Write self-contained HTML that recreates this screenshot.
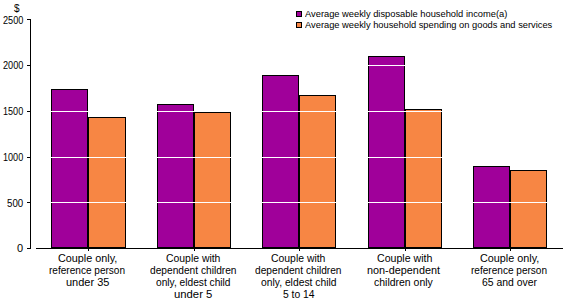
<!DOCTYPE html>
<html><head><meta charset="utf-8"><style>
html,body{margin:0;padding:0;background:#fff;}
body{width:567px;height:302px;position:relative;overflow:hidden;}
div{position:absolute;}
.bar{box-sizing:border-box;border:1px solid #000;}
.sw{width:6px;height:6px;box-sizing:border-box;border:1px solid #000;}
.t{font-family:"Liberation Sans",sans-serif;color:#000;white-space:pre;line-height:13px;transform-origin:0 0;}
</style></head><body>
<div style="left:30px;top:19px;width:1px;height:230px;background:#000;"></div>
<div style="left:27px;top:19px;width:3px;height:1px;background:#000;"></div>
<div style="left:27px;top:65px;width:3px;height:1px;background:#000;"></div>
<div style="left:27px;top:111px;width:3px;height:1px;background:#000;"></div>
<div style="left:27px;top:157px;width:3px;height:1px;background:#000;"></div>
<div style="left:27px;top:202px;width:3px;height:1px;background:#000;"></div>
<div style="left:27px;top:248px;width:3px;height:1px;background:#000;"></div>
<div style="left:36px;top:248px;width:527px;height:1px;background:#000;"></div>
<div style="left:88px;top:249px;width:1px;height:2px;background:#000;"></div>
<div style="left:194px;top:249px;width:1px;height:2px;background:#000;"></div>
<div style="left:299px;top:249px;width:1px;height:2px;background:#000;"></div>
<div style="left:405px;top:249px;width:1px;height:2px;background:#000;"></div>
<div style="left:510px;top:249px;width:1px;height:2px;background:#000;"></div>
<div class="bar" style="left:51px;top:89px;width:37px;height:159px;background:#A0009A"></div>
<div class="bar" style="left:88px;top:117px;width:38px;height:131px;background:#F78644"></div>
<div class="bar" style="left:157px;top:104px;width:37px;height:144px;background:#A0009A"></div>
<div class="bar" style="left:194px;top:112px;width:37px;height:136px;background:#F78644"></div>
<div class="bar" style="left:262px;top:75px;width:37px;height:173px;background:#A0009A"></div>
<div class="bar" style="left:299px;top:95px;width:37px;height:153px;background:#F78644"></div>
<div class="bar" style="left:368px;top:56px;width:37px;height:192px;background:#A0009A"></div>
<div class="bar" style="left:405px;top:109px;width:37px;height:139px;background:#F78644"></div>
<div class="bar" style="left:473px;top:166px;width:37px;height:82px;background:#A0009A"></div>
<div class="bar" style="left:510px;top:170px;width:37px;height:78px;background:#F78644"></div>
<div style="left:36px;top:65px;width:527px;height:1px;background:#fff;"></div>
<div style="left:36px;top:111px;width:527px;height:1px;background:#fff;"></div>
<div style="left:36px;top:157px;width:527px;height:1px;background:#fff;"></div>
<div style="left:36px;top:202px;width:527px;height:1px;background:#fff;"></div>
<div class="sw" style="left:296px;top:11px;background:#A0009A"></div>
<div class="sw" style="left:296px;top:22px;background:#F78644"></div>
<div class="t" style="left:3.00px;top:14px;font-size:11px;transform:scaleX(0.8333)">2500</div>
<div class="t" style="left:3.00px;top:59px;font-size:11px;transform:scaleX(0.8333)">2000</div>
<div class="t" style="left:3.17px;top:105px;font-size:11px;transform:scaleX(0.8261)">1500</div>
<div class="t" style="left:3.17px;top:151px;font-size:11px;transform:scaleX(0.8261)">1000</div>
<div class="t" style="left:7.12px;top:197px;font-size:11px;transform:scaleX(0.8824)">500</div>
<div class="t" style="left:17.00px;top:242px;font-size:11px;transform:scaleX(1.0000)">0</div>
<div class="t" style="left:14.00px;top:2px;font-size:10px;transform:scaleX(1.0000)">$</div>
<div class="t" style="left:58.02px;top:252px;font-size:11px;transform:scaleX(0.9831)">Couple only,</div>
<div class="t" style="left:49.09px;top:264px;font-size:11px;transform:scaleX(0.9146)">reference person</div>
<div class="t" style="left:66.00px;top:276px;font-size:11px;transform:scaleX(1.0000)">under 35</div>
<div class="t" style="left:166.05px;top:252px;font-size:11px;transform:scaleX(0.9464)">Couple with</div>
<div class="t" style="left:150.00px;top:264px;font-size:11px;transform:scaleX(0.9247)">dependent children</div>
<div class="t" style="left:156.00px;top:276px;font-size:11px;transform:scaleX(0.9250)">only, eldest child</div>
<div class="t" style="left:173.97px;top:288px;font-size:11px;transform:scaleX(1.0278)">under 5</div>
<div class="t" style="left:271.05px;top:252px;font-size:11px;transform:scaleX(0.9464)">Couple with</div>
<div class="t" style="left:255.00px;top:264px;font-size:11px;transform:scaleX(0.9247)">dependent children</div>
<div class="t" style="left:261.00px;top:276px;font-size:11px;transform:scaleX(0.9375)">only, eldest child</div>
<div class="t" style="left:283.06px;top:288px;font-size:11px;transform:scaleX(0.9394)">5 to 14</div>
<div class="t" style="left:377.04px;top:252px;font-size:11px;transform:scaleX(0.9643)">Couple with</div>
<div class="t" style="left:367.01px;top:264px;font-size:11px;transform:scaleX(0.9863)">non-dependent</div>
<div class="t" style="left:374.00px;top:276px;font-size:11px;transform:scaleX(0.9516)">children only</div>
<div class="t" style="left:480.02px;top:252px;font-size:11px;transform:scaleX(0.9831)">Couple only,</div>
<div class="t" style="left:471.09px;top:264px;font-size:11px;transform:scaleX(0.9146)">reference person</div>
<div class="t" style="left:482.05px;top:276px;font-size:11px;transform:scaleX(0.9474)">65 and over</div>
<div class="t" style="left:305.00px;top:7px;font-size:9.5px;transform:scaleX(0.9806)">Average weekly disposable household income(a)</div>
<div class="t" style="left:305.00px;top:18px;font-size:9.5px;transform:scaleX(0.9802)">Average weekly household spending on goods and services</div>
</body></html>
